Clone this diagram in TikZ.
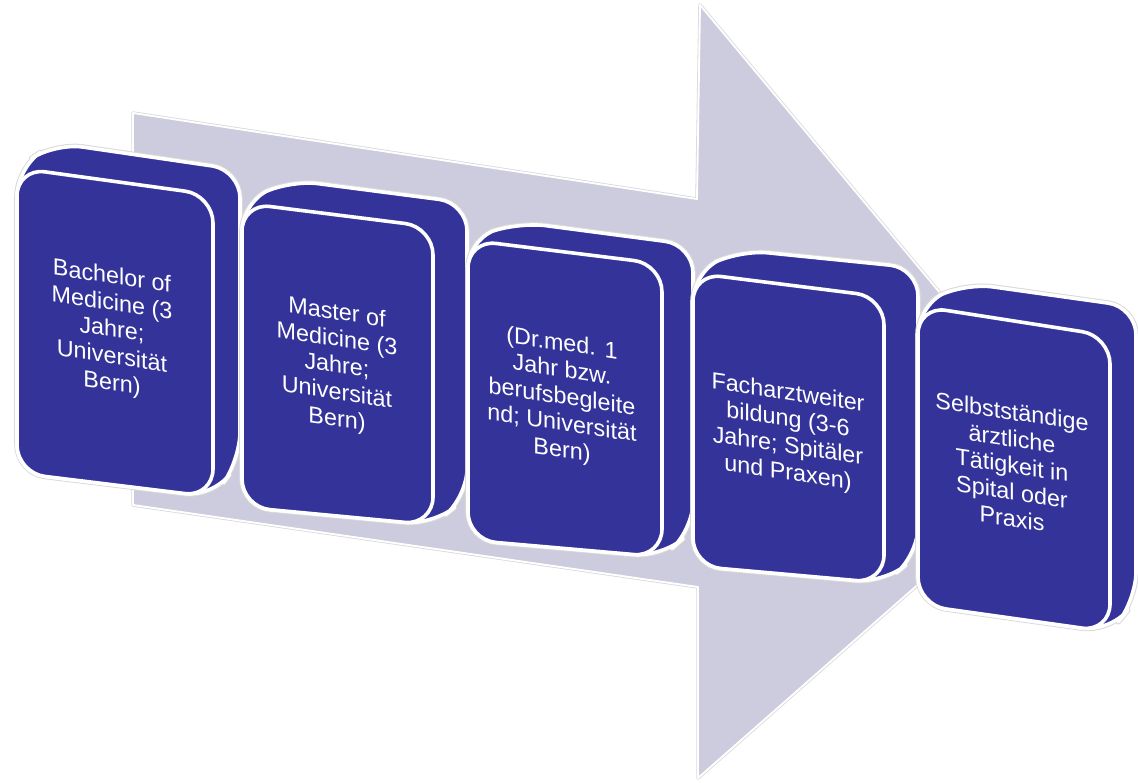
\documentclass[tikz,border=0pt]{standalone}
\usepackage{fontspec}
\setmainfont{Liberation Sans}
\definecolor{boxblue}{RGB}{51,51,153}
\definecolor{shaft}{RGB}{204,204,222}

\begin{document}
\begin{tikzpicture}[x=0.75pt,y=-0.75pt,
	halo/.style={draw=black!15, line width=4.2pt, rounded corners=21pt, line join=round},
	slab/.style={fill=boxblue, draw=white, line width=2.7pt, rounded corners=21pt, line join=round},
	boxtext/.style={text=white, align=center, font=\fontsize{17.5}{20}\selectfont, yslant=-0.15, transform shape, inner sep=0pt}]
	\useasboundingbox (0,0) rectangle (1138,782);

	\draw[black!15, line width=2.6pt, line join=round] (133,113) -- (697,199) -- (700,5) -- (1071,450) -- (698,778) -- (698,587) -- (133,505) -- cycle;
	\filldraw[fill=shaft, draw=white, line width=1.4pt, line join=round] (133,113) -- (697,199) -- (700,5) -- (1071,450) -- (698,778) -- (698,587) -- (133,505) -- cycle;

	\draw[halo] (17,320) -- (17,168) -- (55,143) -- (240,170) -- (240,460) -- (213,497) -- (17,473) -- cycle;
	\filldraw[slab] (17,320) -- (17,168) -- (55,143) -- (240,170) -- (240,460) -- (213,497) -- (17,473) -- cycle;
	\filldraw[slab] (17,320) -- (17,168) -- (213,195) -- (213,497) -- (17,473) -- cycle;
	\node[boxtext] (bachelor) at (112,331) {Bachelor of\\Medicine (3\\Jahre;\\Universität\\Bern)};

	\draw[halo] (242,350) -- (242,203) -- (290,180) -- (467,203) -- (467,497) -- (433,525) -- (242,507) -- cycle;
	\filldraw[slab] (242,350) -- (242,203) -- (290,180) -- (467,203) -- (467,497) -- (433,525) -- (242,507) -- cycle;
	\filldraw[slab] (242,350) -- (242,203) -- (433,227) -- (433,525) -- (242,507) -- cycle;
	\node[boxtext] (master) at (337,367) {Master of\\Medicine (3\\Jahre;\\Universität\\Bern)};

	\draw[halo] (468,390) -- (468,240) -- (518,222) -- (693,245) -- (693,530) -- (662,557) -- (468,540) -- cycle;
	\filldraw[slab] (468,390) -- (468,240) -- (518,222) -- (693,245) -- (693,530) -- (662,557) -- (468,540) -- cycle;
	\filldraw[slab] (468,390) -- (468,240) -- (662,264) -- (662,557) -- (468,540) -- cycle;
	\node[boxtext] (drmed) at (562,398) {(Dr.med. 1\\Jahr bzw.\\berufsbegleite\\nd; Universität\\Bern)};

	\draw[halo] (693,420) -- (693,273) -- (740,250) -- (918,268) -- (918,555) -- (884,583) -- (693,566) -- cycle;
	\filldraw[slab] (693,420) -- (693,273) -- (740,250) -- (918,268) -- (918,555) -- (884,583) -- (693,566) -- cycle;
	\filldraw[slab] (693,420) -- (693,273) -- (884,297) -- (884,583) -- (693,566) -- cycle;
	\node[boxtext] (facharzt) at (788,434) {Facharztweiter\\bildung (3-6\\Jahre; Spitäler\\und Praxen)};

	\draw[halo] (918,450) -- (918,306) -- (965,283) -- (1136,307) -- (1136,600) -- (1110,632) -- (918,605) -- cycle;
	\filldraw[slab] (918,450) -- (918,306) -- (965,283) -- (1136,307) -- (1136,600) -- (1110,632) -- (918,605) -- cycle;
	\filldraw[slab] (918,450) -- (918,306) -- (1110,336) -- (1110,632) -- (918,605) -- cycle;
	\node[boxtext] (praxis) at (1012,465) {Selbstständige\\ärztliche\\Tätigkeit in\\Spital oder\\Praxis};
\end{tikzpicture}
\end{document}
